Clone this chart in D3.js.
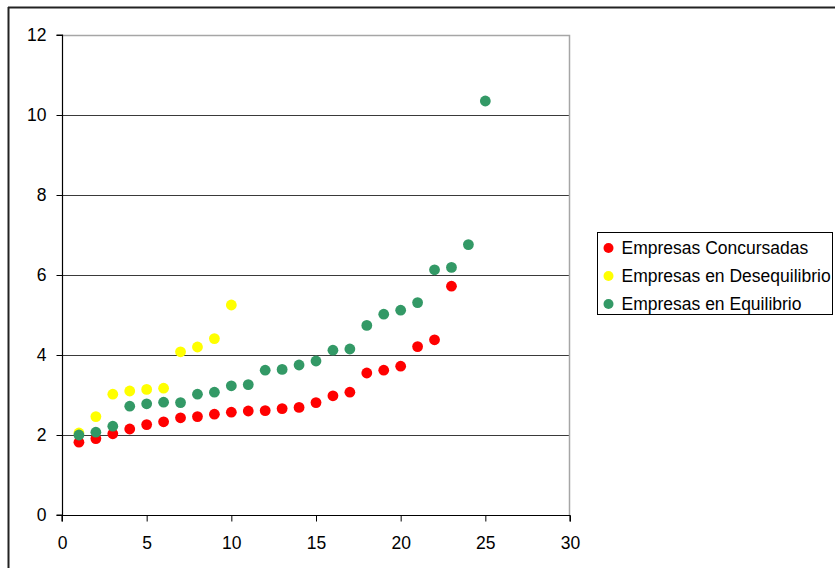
<!DOCTYPE html>
<html>
<head>
<meta charset="utf-8">
<script src="https://cdn.jsdelivr.net/npm/d3@7"></script>
<style>
  html, body { margin: 0; padding: 0; background: #fff; }
  svg { display: block; font-family: "Liberation Sans", Arial, sans-serif; }
</style>
</head>
<body>
<svg id="chart" width="835" height="568"></svg>
<script>
// Series values, one point per firm ranked 1..n along the x axis
const seriesNames = ["Empresas Concursadas", "Empresas en Desequilibrio", "Empresas en Equilibrio"];
const seriesColors = ["#ff0000", "#ffff00", "#339966"];

const concursadas = [1.82, 1.91, 2.03, 2.15, 2.26, 2.33, 2.43, 2.46, 2.52, 2.57,
                     2.60, 2.61, 2.66, 2.69, 2.81, 2.98, 3.07, 3.55, 3.62, 3.72,
                     4.21, 4.38, 5.72];
const desequilibrio = [2.05, 2.46, 3.02, 3.10, 3.14, 3.17, 4.08, 4.20, 4.41, 5.25];
const equilibrio = [2.00, 2.07, 2.22, 2.72, 2.78, 2.82, 2.81, 3.02, 3.07, 3.23,
                    3.26, 3.62, 3.64, 3.75, 3.85, 4.12, 4.15, 4.74, 5.02, 5.12,
                    5.31, 6.13, 6.19, 6.76, 10.35];

const xTicks = [0, 5, 10, 15, 20, 25, 30];
const yTicks = [0, 2, 4, 6, 8, 10, 12];

const allSeries = [concursadas, desequilibrio, equilibrio];

const svg = d3.select("#chart");

// Outer chart frame (only top and left edges fall inside the view)
svg.append("line").attr("x1", 8).attr("x2", 835).attr("y1", 7.5).attr("y2", 7.5)
  .attr("stroke", "#222").attr("stroke-width", 2);
svg.append("line").attr("x1", 8.5).attr("x2", 8.5).attr("y1", 7).attr("y2", 568)
  .attr("stroke", "#222").attr("stroke-width", 2);

const x = d3.scaleLinear().domain([0, 30]).range([62, 570]);
const y = d3.scaleLinear().domain([0, 12]).range([515, 35]);

// Horizontal gridlines
svg.append("g").selectAll("line")
  .data(yTicks.filter(t => t > 0 && t < 12))
  .join("line")
  .attr("x1", x(0)).attr("x2", x(30))
  .attr("y1", d => Math.round(y(d)) + 0.5).attr("y2", d => Math.round(y(d)) + 0.5)
  .attr("stroke", "#3a3a3a").attr("stroke-width", 1);

// Plot area frame (top and right)
svg.append("path")
  .attr("d", `M${x(0)},${y(12) + 0.5}H${x(30) - 0.5}V${y(0)}`)
  .attr("fill", "none").attr("stroke", "#a6a6a6").attr("stroke-width", 1.5);

// Axes
const xAxis = d3.axisBottom(x).tickValues(xTicks).tickSize(6).tickPadding(15).tickFormat(d3.format("d"));
const yAxis = d3.axisLeft(y).tickValues(yTicks).tickSize(6).tickPadding(10).tickFormat(d3.format("d"));

const gx = svg.append("g").attr("transform", `translate(0,${y(0) + 0.5})`).call(xAxis);
const gy = svg.append("g").attr("transform", `translate(${x(0) + 0.5},0)`).call(yAxis);

[gx, gy].forEach(g => {
  g.select(".domain").attr("stroke", "#000").attr("stroke-width", 1.2);
  g.selectAll(".tick line").attr("stroke", "#000");
  g.selectAll(".tick text").attr("fill", "#000")
    .style("font-size", "17.5px")
    .style("font-family", "'Liberation Sans', Arial, sans-serif");
});
gx.select(".domain").attr("d", `M${x(0)},6V0H${x(30)}V6`);
gy.select(".domain").attr("d", `M-6,${y(12)}H0V${y(0)}H-6`);

// Scatter points, series drawn in order so the later ones sit on top
allSeries.forEach((vals, si) => {
  svg.append("g").selectAll("circle")
    .data(vals)
    .join("circle")
    .attr("cx", (d, i) => x(i + 1))
    .attr("cy", d => y(d))
    .attr("r", 5.4)
    .attr("fill", seriesColors[si]);
});

// Legend
const lg = svg.append("g").attr("transform", "translate(597.5,232.5)");
lg.append("rect").attr("width", 235).attr("height", 82)
  .attr("fill", "#fff").attr("stroke", "#000").attr("stroke-width", 1);
seriesNames.forEach((name, i) => {
  const row = lg.append("g").attr("transform", `translate(0,${15.5 + i * 28})`);
  row.append("circle").attr("cx", 11).attr("cy", 0).attr("r", 5).attr("fill", seriesColors[i]);
  row.append("text").attr("x", 24).attr("y", 0).attr("dy", "0.36em")
    .style("font-size", "17.5px").attr("fill", "#000").text(name);
});
</script>
</body>
</html>
